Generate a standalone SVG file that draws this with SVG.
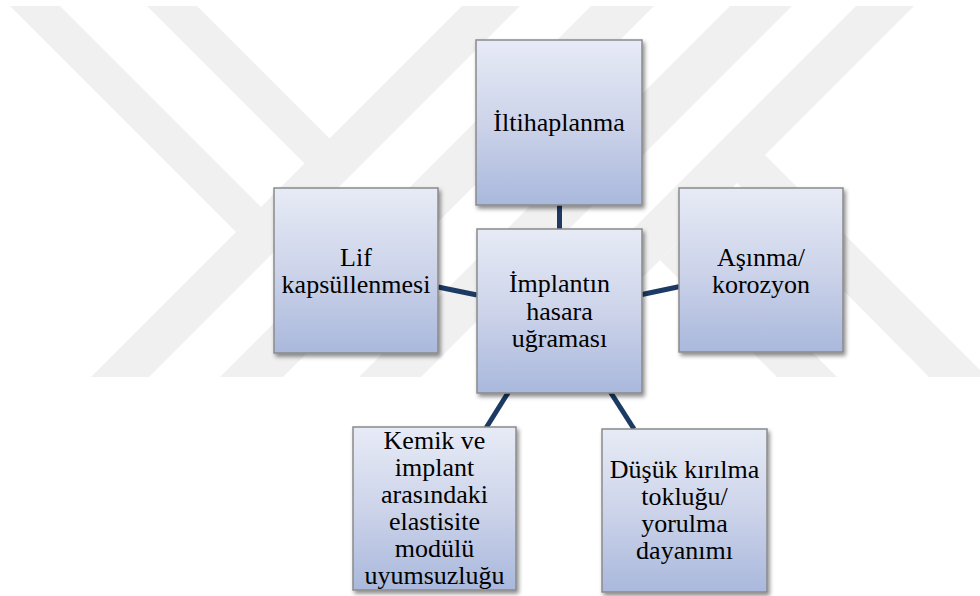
<svg xmlns="http://www.w3.org/2000/svg" width="980" height="596" viewBox="0 0 980 596">
  <defs>
    <linearGradient id="boxGrad" x1="0" y1="0" x2="0" y2="1">
      <stop offset="0" stop-color="#e7ebf6"/>
      <stop offset="0.5" stop-color="#cdd4ea"/>
      <stop offset="1" stop-color="#a9b8dc"/>
    </linearGradient>
    <filter id="shadow" x="-10%" y="-10%" width="125%" height="125%">
      <feDropShadow dx="2" dy="3" stdDeviation="2" flood-color="#000" flood-opacity="0.45"/>
    </filter>
  </defs>
  <style>
    .wm { fill: #f0f0f0; }
    .box { fill: url(#boxGrad); stroke: #8a8a8a; stroke-width: 1.5; filter: url(#shadow); }
    .lbl { font-family: "Liberation Serif", "Times New Roman", serif; font-size: 26px; fill: #000; text-anchor: middle; }
    .conn { stroke: #1c3a64; stroke-width: 5; fill: none; }
  </style>
  <rect width="980" height="596" fill="#ffffff"/>
  <g id="watermark">
    <polygon class="wm" points="10,6 60,6 261,207 236,232"/>
    <polygon class="wm" points="147,6 197,6 330,139 305,164"/>
    <polygon class="wm" points="462,6 520,6 149,377 91,377"/>
    <polygon class="wm" points="591,6 654,6 283,377 220,377"/>
    <polygon class="wm" points="730,6 792,6 421,377 359,377"/>
    <polygon class="wm" points="856,6 914,6 765,155 980,370 980,377 929,377 737,183 543,377 485,377"/>
    <polygon class="wm" points="690,230 837,377 777,377 660,260"/>
  </g>
  <g id="connectors">
    <line class="conn" x1="559.5" y1="205" x2="559.5" y2="229"/>
    <line class="conn" x1="438" y1="287" x2="477" y2="295"/>
    <line class="conn" x1="642" y1="294.5" x2="680" y2="286.5"/>
    <line class="conn" x1="516" y1="380" x2="486" y2="428"/>
    <line class="conn" x1="604" y1="382" x2="634" y2="429"/>
  </g>
  <g id="node-iltihaplanma">
    <rect class="box" x="476" y="40" width="166" height="165"/>
    <text class="lbl" x="559" y="131">İltihaplanma</text>
  </g>
  <g id="node-lif">
    <rect class="box" x="274" y="188" width="164" height="165"/>
    <text class="lbl" x="356" y="265.5">Lif</text>
    <text class="lbl" x="356" y="292.5">kapsüllenmesi</text>
  </g>
  <g id="node-center">
    <rect class="box" x="477" y="229" width="165" height="164"/>
    <text class="lbl" x="559.5" y="292">İmplantın</text>
    <text class="lbl" x="559.5" y="319.5">hasara</text>
    <text class="lbl" x="559.5" y="347">uğraması</text>
  </g>
  <g id="node-asinma">
    <rect class="box" x="679" y="188" width="164" height="164"/>
    <text class="lbl" x="761" y="265.5">Aşınma/</text>
    <text class="lbl" x="761" y="292.5">korozyon</text>
  </g>
  <g id="node-kemik">
    <rect class="box" x="353" y="427" width="163" height="163"/>
    <text class="lbl" x="434.5" y="449">Kemik ve</text>
    <text class="lbl" x="434.5" y="476">implant</text>
    <text class="lbl" x="434.5" y="503">arasındaki</text>
    <text class="lbl" x="434.5" y="530">elastisite</text>
    <text class="lbl" x="434.5" y="557">modülü</text>
    <text class="lbl" x="434.5" y="584">uyumsuzluğu</text>
  </g>
  <g id="node-dusuk">
    <rect class="box" x="602" y="429" width="165" height="163"/>
    <text class="lbl" x="684.5" y="478">Düşük kırılma</text>
    <text class="lbl" x="684.5" y="505">tokluğu/</text>
    <text class="lbl" x="684.5" y="532">yorulma</text>
    <text class="lbl" x="684.5" y="559">dayanımı</text>
  </g>
</svg>
